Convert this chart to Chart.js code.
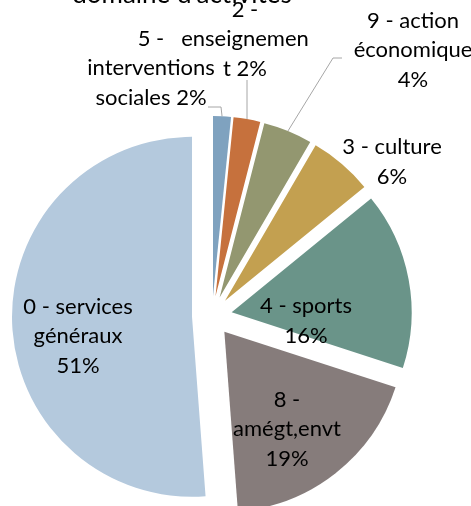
<!DOCTYPE html>
<html>
<head>
<meta charset="utf-8">
<script src="https://cdn.jsdelivr.net/npm/chart.js@4.4.1/dist/chart.umd.min.js"></script>
<style>
  html, body { margin: 0; padding: 0; background: #fff; overflow: hidden; }
</style>
</head>
<body>
<canvas id="pie" width="471" height="506"></canvas>
<script>
// ===== DATA =====
const categories = [
  "5 - interventions sociales",
  "2 - enseignement",
  "9 - action économique",
  "3 - culture",
  "4 - sports",
  "8 - amégt,envt",
  "0 - services généraux"
];
const values = [1.6, 2.4, 4.4, 5.7, 15.9, 18.8, 51.2];
const colors = ["#7fa2bf", "#c6713d", "#939770", "#c3a050", "#6a9489", "#867c7b", "#b4c9dd"];

// label text as wrapped in the picture, {p} = percent
const labelLines = [
  ["5 -", "interventions", "sociales {p}"],
  ["2 -", "enseignemen", "t {p}"],
  ["9 - action", "économique", "{p}"],
  ["3 - culture", "{p}"],
  ["4 - sports", "{p}"],
  ["8 -", "amégt,envt", "{p}"],
  ["0 - services", "généraux", "{p}"]
];

// ===== LAYOUT (px, relative to the pie centre) =====
const EXPLODE = 20;
const LINE_H = 29.5;
const FONT = "22px Lato";
const labelPos = [[-61, -248], [33, -277], [201, -266], [180, -154], [94, 5], [75, 113], [-134, 20]];
const leaders = [
  [[9, -209], [-4, -209]],
  [[35, -236]],
  [[121, -258], [130, -258]],
  null, null, null, null
];

// ===== PLUGINS =====
const explodePlugin = {
  id: "explode",
  beforeDatasetDraw(chart, args) {
    const ctx = chart.ctx;
    args.meta.data.forEach(arc => {
      const mid = (arc.startAngle + arc.endAngle) / 2;
      ctx.save();
      ctx.translate(Math.cos(mid) * EXPLODE, Math.sin(mid) * EXPLODE);
      arc.draw(ctx);
      ctx.restore();
    });
    return false;
  }
};

const labelPlugin = {
  id: "pieLabels",
  afterDraw(chart) {
    const ctx = chart.ctx;
    const meta = chart.getDatasetMeta(0);
    const total = values.reduce((a, b) => a + b, 0);

    ctx.save();
    ctx.strokeStyle = "#a6a6a6";
    ctx.lineWidth = 1;
    ctx.fillStyle = "#000";
    ctx.font = FONT;
    ctx.textAlign = "center";
    ctx.textBaseline = "middle";

    meta.data.forEach((arc, i) => {
      const cx = arc.x, cy = arc.y;
      const mid = (arc.startAngle + arc.endAngle) / 2;

      if (leaders[i]) {
        const sx = cx + Math.cos(mid) * (EXPLODE + arc.outerRadius);
        const sy = cy + Math.sin(mid) * (EXPLODE + arc.outerRadius);
        ctx.beginPath();
        ctx.moveTo(sx, sy);
        leaders[i].forEach(([dx, dy]) => ctx.lineTo(cx + dx, cy + dy));
        ctx.stroke();
      }

      const pct = Math.round(values[i] / total * 100) + "%";
      const lines = labelLines[i].map(s => s.replace("{p}", pct));
      const [dx, dy] = labelPos[i];
      lines.forEach((t, k) => {
        ctx.fillText(t, cx + dx, cy + dy + (k - (lines.length - 1) / 2) * LINE_H);
      });
    });

    // title, mostly cut off at the top of the picture
    ctx.font = "26px Lato";
    ctx.textBaseline = "alphabetic";
    ctx.fillText("domaine d'activités", 182, 3);
    ctx.restore();
  }
};

// ===== CHART =====
new Chart(document.getElementById("pie"), {
  type: "pie",
  data: {
    labels: categories,
    datasets: [{
      data: values,
      backgroundColor: colors,
      borderWidth: 0,
      offset: 0,
      hoverOffset: 0
    }]
  },
  options: {
    responsive: false,
    animation: false,
    layout: { padding: { left: 32, right: 79, top: 136, bottom: 10 } },
    plugins: {
      legend: { display: false },
      tooltip: { enabled: false }
    }
  },
  plugins: [explodePlugin, labelPlugin]
});
</script>
</body>
</html>
